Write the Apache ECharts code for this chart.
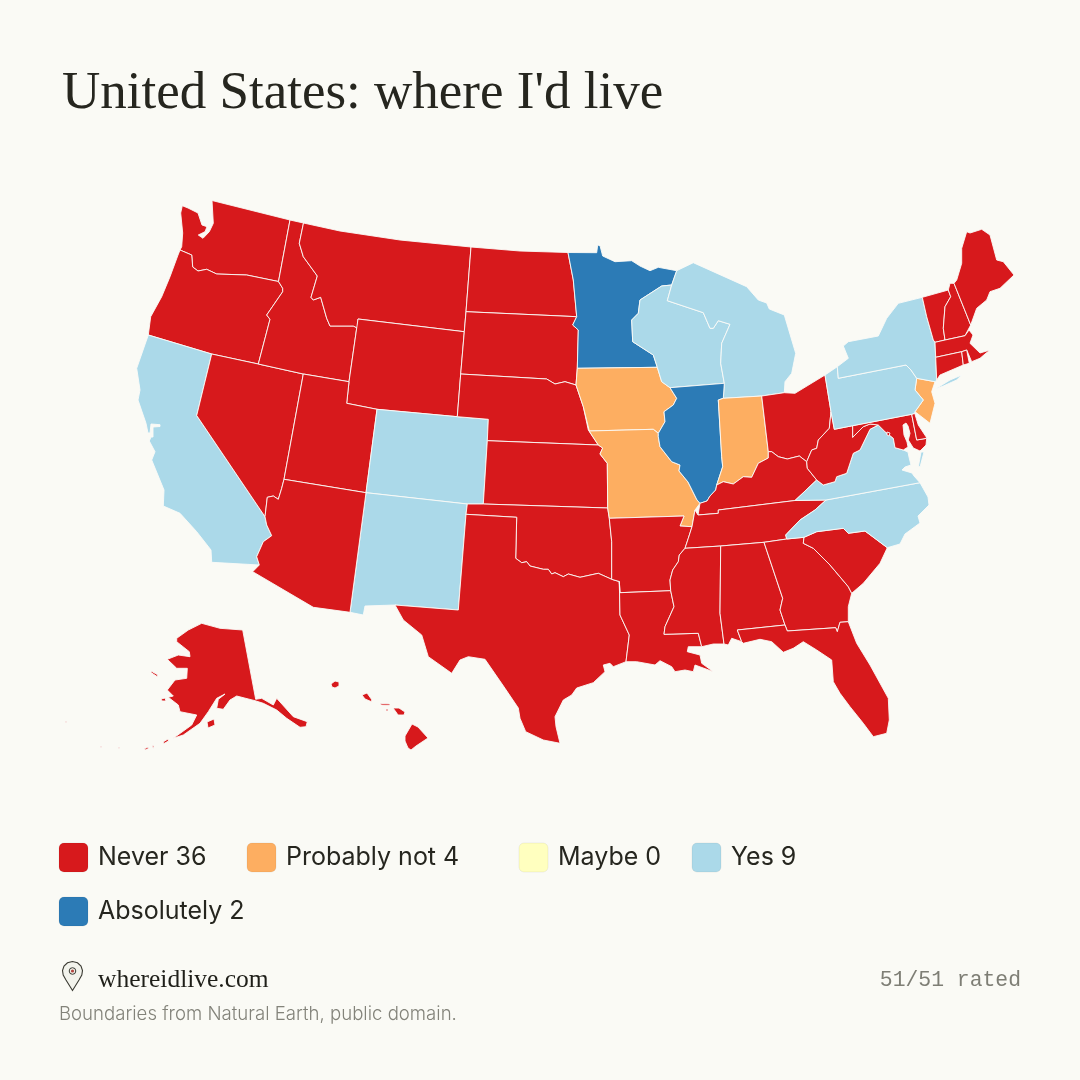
<!DOCTYPE html>
<html>
<head>
<meta charset="utf-8">
<title>United States: where I'd live</title>
<style>
	html, body { margin: 0; padding: 0; background: #fafaf5; }
</style>
</head>
<body>
<div id="main" style="width:1080px;height:1080px;"></div>
<script src="https://cdn.jsdelivr.net/npm/echarts@6/dist/echarts.min.js"></script>
<script>
	// rating scale
	var ratingNames = ['Never', 'Probably not', 'Maybe', 'Yes', 'Absolutely'];
	var ratingColors = ['#d7191c', '#fdae61', '#ffffbf', '#abd9e9', '#2c7bb6'];

	// states per rating, everything not listed is "Never"
	var probablyNot = ['Iowa', 'Missouri', 'Indiana', 'New Jersey'];
	var maybe = [];
	var yes = ['California', 'Colorado', 'New Mexico', 'Wisconsin', 'Michigan', 'New York', 'Pennsylvania', 'Virginia', 'North Carolina'];
	var absolutely = ['Minnesota', 'Illinois'];

	// rough state outlines, traced in page pixels. geojson is built from these below
	var outlines = {
		'Washington': [[[212,200.5],[250,210],[290,220],[278.5,281.5],[246.7,275],[216.7,274],[206.7,269.3],[198,271],[192.7,267],[191.7,255],[180,250],[181.7,246.7],[182.7,233],[180.7,213],[182.3,205.7],[188,208],[198,213],[202,225],[207,226.7],[205,231.7],[198.3,235],[203,238.3],[209.3,231.7],[213.3,223.3]]],
		'Oregon': [[[180,250],[191.7,255],[192.7,267],[198,271],[206.7,269.3],[216.7,274],[246.7,275],[278.5,281.5],[282.7,288.3],[282.7,291.7],[266.7,315],[270,319.3],[258.3,364],[211.7,354],[148.3,335],[150.7,316.7],[161.7,296.7],[170,276.7],[178,255]]],
		'California': [[[148.3,335],[211.7,354],[196.7,415.5],[265,516.7],[266.7,525],[271.7,535.7],[263.3,541.7],[256.7,556.7],[259.3,565],[258.3,566],[211.7,562.3],[211,550],[196.7,531.7],[180,513.3],[163.3,506],[164,490],[151.7,460],[155,451.7],[149.3,441],[151,437],[153,437],[153,427],[160,426.5],[160,424.7],[151,424],[150,433],[148,433],[146,423.3],[138,400],[140,390],[136.7,368.3]], [[166,519.5],[168,520],[167,521]], [[172,519.5],[174,520],[173,521]], [[192,538.5],[193.5,539],[192.5,540]]],
		'Nevada': [[[211.7,354],[258.3,364],[303.3,374],[284,479.3],[281.7,488.3],[278.3,499.3],[273.3,496],[267.3,497.3],[265,516.7],[196.7,415.5]]],
		'Idaho': [[[290,220],[303.5,223],[299.3,243.3],[303.3,256.7],[317.3,276],[311,297.3],[313.3,300],[320.7,297.3],[326.7,318.3],[330,326],[353.3,326],[357.3,328],[358,319],[349,381.7],[303.3,374],[258.3,364],[270,319.3],[266.7,315],[282.7,291.7],[282.7,288.3],[278.5,281.5]]],
		'Montana': [[[303.5,223],[340,231],[400,240],[471,247],[466,311.7],[464.3,331.7],[358,319],[357.3,328],[353.3,326],[330,326],[326.7,318.3],[320.7,297.3],[313.3,300],[311,297.3],[317.3,276],[303.3,256.7],[299.3,243.3]]],
		'Wyoming': [[[358,319],[464.3,331.7],[460.7,374],[457.3,416.7],[377,409.3],[346.7,403.3],[349,381.7]]],
		'Utah': [[[303.3,374],[349,381.7],[346.7,403.3],[377,409.3],[366,492.7],[284,479.3]]],
		'Colorado': [[[377,409.3],[457.3,416.7],[488.3,419.3],[487.3,440.7],[483.3,504],[467.3,504],[366,492.7]]],
		'New Mexico': [[[366,492.7],[467.3,504],[466,514.3],[458.3,610],[395,605],[365,606],[363.3,615],[350,612.3]]],
		'Arizona': [[[284,479.3],[366,492.7],[350,612.3],[313.3,607.3],[252.7,571.7],[259.3,565],[256.7,556.7],[263.3,541.7],[271.7,535.7],[266.7,525],[265,516.7],[267.3,497.3],[273.3,496],[278.3,499.3],[281.7,488.3]]],
		'North Dakota': [[[471,247],[520,251],[568,252.5],[573.3,280],[576.7,316.7],[466,311.7]]],
		'South Dakota': [[[466,311.7],[576.7,316.7],[572.7,325],[578.3,330],[577.3,368.3],[576,385],[565,381.7],[555,384],[546.7,379],[460.7,374],[464.3,331.7]]],
		'Nebraska': [[[460.7,374],[546.7,379],[555,384],[565,381.7],[576,385],[583.3,406.7],[588.3,430],[589.3,431],[591.7,435],[598.3,445],[487.3,440.7],[488.3,419.3],[457.3,416.7]]],
		'Kansas': [[[487.3,440.7],[598.3,445],[602.7,448],[600,454],[607.3,463.3],[607.7,508],[483.3,504]]],
		'Oklahoma': [[[467.3,504],[483.3,504],[607.7,508],[609.3,518.3],[611.7,541.7],[611.7,579.3],[598.3,573.3],[580,577.3],[568.3,574],[563.3,576.7],[555,572.7],[551.7,574],[548.3,569.3],[543.3,569.3],[530,566],[526.7,561.7],[521.7,562.7],[515.7,558.3],[516.7,517.3],[466,514.3]]],
		'Texas': [[[466,514.3],[516.7,517.3],[515.7,558.3],[521.7,562.7],[526.7,561.7],[530,566],[543.3,569.3],[548.3,569.3],[551.7,574],[555,572.7],[563.3,576.7],[568.3,574],[580,577.3],[598.3,573.3],[611.7,579.3],[619.3,581.5],[620,615],[629.3,635],[626,661.7],[613.3,666.7],[610,663.3],[603.3,665],[605,671.7],[593.3,682.7],[576.7,688],[571.7,695],[563.3,700],[555,716.7],[556,726.7],[560,743.3],[543.3,740],[525.7,731.7],[520,718.3],[518.3,708],[505,688.3],[485,659.3],[468.3,656.7],[460,660],[451.7,673.3],[428.3,656.7],[421.7,635],[403.3,620],[395,605],[458.3,610]]],
		'Minnesota': [[[568,252.5],[596.7,252.7],[597.7,245],[600,245.7],[602.7,256],[615,261.7],[631.7,260.7],[640,266],[650,270.7],[658.3,267.3],[676.7,270.7],[671.7,285],[661.7,286],[640,300],[638.3,313.3],[631.7,320],[632.7,341.7],[653.3,355],[657.3,367.3],[577.3,368.3],[578.3,330],[572.7,325],[576.7,316.7],[573.3,280]]],
		'Iowa': [[[577.3,368.3],[657.3,367.3],[661.7,381.7],[670,387.7],[676.7,398.3],[673.3,405],[664,411.7],[665,421.7],[658.3,433.3],[653.3,429.3],[589.3,431],[588.3,430],[583.3,406.7],[576,385]]],
		'Missouri': [[[589.3,431],[653.3,429.3],[658.3,433.3],[658.3,436.7],[660,446.7],[671.7,461.7],[680,465],[679,471],[688,482],[693,492],[697,500],[700,503.3],[695,510],[692,526.7],[680,526],[684,516],[609.3,518.3],[607.7,508],[607.3,463.3],[600,454],[602.7,448],[598.3,445],[591.7,435]]],
		'Arkansas': [[[609.3,518.3],[684,516],[680,526],[692,526.7],[688.3,538.3],[685,548.3],[679.3,555],[678.3,561.7],[672.7,570],[670,580],[670.7,590.7],[620,592.7],[619.3,581.5],[611.7,579.3],[611.7,541.7]]],
		'Louisiana': [[[619.3,581.5],[620,592.7],[670.7,590.7],[674,606.7],[665,626.7],[664,634.3],[698.3,633.3],[701.7,646.7],[688.3,646.7],[687.3,651.7],[700,655],[701.7,663.3],[713.3,671.7],[695,665],[693.3,671.7],[685,670],[675,671.7],[671.7,666.7],[660,660.7],[655,665],[636.7,661.7],[626,661.7],[629.3,635],[620,615]]],
		'Wisconsin': [[[661.7,286],[671.7,285],[667.3,300.7],[703.3,312.7],[710,328.3],[713.3,328.3],[718.3,320.7],[730,324.3],[721.7,343.3],[720.7,363.3],[724.3,383.3],[670,387.7],[661.7,381.7],[657.3,367.3],[653.3,355],[632.7,341.7],[631.7,320],[638.3,313.3],[640,300]]],
		'Michigan': [[[676.7,270.7],[693.3,262.7],[746.7,286.7],[758.3,300],[766.7,303],[769.3,309],[784.3,315],[795.7,353.3],[791.7,373.3],[785,381.7],[784.3,392.7],[761.7,396],[723.3,398.3],[724.3,383.3],[720.7,363.3],[721.7,343.3],[730,324.3],[718.3,320.7],[713.3,328.3],[710,328.3],[703.3,312.7],[667.3,300.7],[671.7,285]]],
		'Illinois': [[[670,387.7],[724.3,383.3],[723.3,398.3],[718.3,400],[721.7,456.7],[722.7,466.7],[716.7,485],[715.7,490],[710,496],[707,501],[700,503.3],[697,500],[693,492],[688,482],[679,471],[680,465],[671.7,461.7],[660,446.7],[658.3,436.7],[658.3,433.3],[665,421.7],[664,411.7],[673.3,405],[676.7,398.3]]],
		'Indiana': [[[718.3,400],[723.3,398.3],[761.7,396],[768.3,451.7],[768.3,458],[758.3,463.3],[751.7,477.3],[743.3,476.7],[733.3,484],[723.3,481.7],[716.7,485],[722.7,466.7],[721.7,456.7]]],
		'Ohio': [[[761.7,396],[784.3,392.7],[795,393.3],[825,375],[831,411.7],[829.3,428.3],[818.3,440],[816.7,448.3],[811.7,450],[806.7,461.7],[799.3,456],[787.3,459],[778.3,456.7],[771.7,451.7],[768.3,451.7]]],
		'Kentucky': [[[768.3,451.7],[771.7,451.7],[778.3,456.7],[787.3,459],[799.3,456],[806.7,461.7],[807.3,468.3],[816.7,480],[795,500.5],[718.3,510],[718.3,513.3],[698,515],[700,503.3],[707,501],[710,496],[715.7,490],[716.7,485],[723.3,481.7],[733.3,484],[743.3,476.7],[751.7,477.3],[758.3,463.3],[768.3,458]]],
		'Tennessee': [[[698,515],[718.3,513.3],[718.3,510],[795,500.5],[826,500],[815,510],[800,520],[787.3,533.3],[785.7,535],[786.7,539],[764,542.3],[720.7,546],[685,548.3],[688.3,538.3],[692,526.7],[695,510]]],
		'Mississippi': [[[685,548.3],[720.7,546],[720,613.3],[724,644],[713.3,644],[701.7,646.7],[698.3,633.3],[664,634.3],[665,626.7],[674,606.7],[670.7,590.7],[670,580],[672.7,570],[678.3,561.7],[679.3,555]]],
		'Alabama': [[[720.7,546],[764,542.3],[782.7,598.3],[780,610],[785,625],[737.3,630],[741.7,641.7],[731.7,638.3],[728.3,645],[724,644],[720,613.3]]],
		'Georgia': [[[764,542.3],[786.7,539],[804,537.3],[803.3,543.3],[813.3,548.3],[830,565],[848.3,586.7],[851.7,593.3],[848.3,606.7],[848.3,621.7],[840,622.3],[837.3,631.7],[835.7,627.7],[787.3,631],[785,625],[780,610],[782.7,598.3]]],
		'Florida': [[[737.3,630],[785,625],[787.3,631],[835.7,627.7],[837.3,631.7],[840,622.3],[848.3,621.7],[856.7,643.3],[870,665],[888.3,698.3],[889.3,720],[886.7,733.3],[873.3,736.7],[863.3,723.3],[850,706.7],[840,693.3],[833.3,681.7],[831.7,660],[816.7,650],[803.3,641.7],[793.3,648.3],[783.3,652.3],[771.7,641.7],[760,639.3],[743.3,643.3],[741.7,641.7]]],
		'South Carolina': [[[804,537.3],[816.7,531.7],[843.3,528.3],[848.3,533.3],[865,531],[887.3,547.7],[880,563.3],[863.3,583.3],[851.7,593.3],[848.3,586.7],[830,565],[813.3,548.3],[803.3,543.3]]],
		'North Carolina': [[[826,500],[920,482.7],[928,497],[929,505],[918,516],[920,523],[905,534],[900,544],[887.3,547.7],[865,531],[848.3,533.3],[843.3,528.3],[816.7,531.7],[804,537.3],[786.7,539],[785.7,535],[787.3,533.3],[800,520],[815,510]]],
		'Virginia': [[[795,500.5],[816.7,480],[823.3,485],[835,481.7],[836.7,476.7],[846.7,473.3],[853.3,453.3],[860,450],[870,429.3],[878.3,425],[885,431.7],[893.3,438.3],[895,447.7],[903.3,450],[908,452],[909,457],[911,465],[905,467],[902,470],[912,473],[914,476],[920,482.7],[826,500]], [[921,452],[924,452],[920,467],[918.5,466]]],
		'West Virginia': [[[831,411.7],[834.3,429.3],[852.7,425.7],[852.7,437.3],[863.3,426.7],[870,424],[878.3,425],[870,429.3],[860,450],[853.3,453.3],[846.7,473.3],[836.7,476.7],[835,481.7],[823.3,485],[816.7,480],[807.3,468.3],[806.7,461.7],[811.7,450],[816.7,448.3],[818.3,440],[829.3,428.3]]],
		'Maryland': [[[852.7,425.7],[911.7,414.3],[916.7,440],[926.7,438.3],[926,445],[920,451],[913.3,448],[908.3,440],[910,433.3],[908,426],[906,423],[903,425],[904,435],[907,442],[908,447],[903.3,450],[895,447.7],[893.3,438.3],[885,431.7],[878.3,425],[870,424],[863.3,426.7],[852.7,437.3]]],
		'District of Columbia': [[[887,432],[890,433],[889,436],[887,435]]],
		'Delaware': [[[911.7,414.3],[914.7,413.3],[918.3,425],[926,436.7],[926.7,438.3],[916.7,440]]],
		'New Jersey': [[[916.7,378.3],[935,381.7],[931.7,391.7],[935,403.3],[930,423.3],[915,411.7],[923.3,400],[915,390]]],
		'Pennsylvania': [[[825,375],[837.3,366.7],[838.3,378.3],[906,365],[911,370],[916.7,378.3],[915,390],[923.3,400],[915,411.7],[914.7,413.3],[911.7,414.3],[852.7,425.7],[834.3,429.3],[831,411.7]]],
		'New York': [[[837.3,366.7],[848.3,358.3],[843.3,346],[848.3,341.7],[878.3,336],[886.7,318.3],[898.3,303.3],[922.3,297.3],[926.7,316.7],[933.3,340],[935,342.3],[935.7,357.3],[936.7,380],[935,381.7],[916.7,378.3],[911,370],[906,365],[838.3,378.3]], [[935,389.3],[950,380],[961.7,375],[956.7,380],[943.3,386]]],
		'Vermont': [[[922.3,297.3],[948.3,290],[950.7,296.7],[945,306.7],[943.3,328.3],[945,340],[935,342.3],[933.3,340],[926.7,316.7]]],
		'New Hampshire': [[[948.3,290],[950,283.3],[954,283.3],[970.7,325],[965,335.7],[945,340],[943.3,328.3],[945,306.7],[950.7,296.7]]],
		'Maine': [[[954,283.3],[956.7,280],[961.7,263.3],[961.7,248.3],[966.7,231.7],[970,233],[981.7,229.3],[990,235],[996.7,260],[1003.3,261.7],[1014,275],[1000,288.3],[990,291.7],[986.7,300],[976.7,308.3],[970.7,325]]],
		'Massachusetts': [[[935,342.3],[945,340],[965,335.7],[969,330],[973,335],[970,343.3],[980,353],[990,350],[985,354],[980,358.3],[971.7,361.7],[966.7,350],[961.7,351.7],[935.7,357.3]], [[982,359.5],[983.5,360],[982.5,361]], [[990,359.5],[991.5,360],[990.5,361]]],
		'Connecticut': [[[935.7,357.3],[961.7,351.7],[963.3,365],[940,375],[936.7,380]]],
		'Rhode Island': [[[961.7,351.7],[966.7,350],[969.3,363.3],[963.3,365]]],
		'Alaska': [[[242.7,630],[255.7,699.3],[261.7,698.3],[273.3,705],[276.7,698.3],[293.3,716.7],[307.3,721.7],[306,726.7],[300,727.3],[286.7,718.3],[276.7,710],[263.3,703.3],[255,700.7],[236.7,696],[230,700],[223.3,709.3],[216.7,708.3],[218.3,699.3],[225,694],[216.7,698.3],[208.3,711.7],[200,723.3],[183.3,735],[173.3,738.3],[191.7,725],[196.7,715],[180,711.7],[178.3,705],[168.3,697.3],[173.3,696],[167.3,690],[175,680],[186.7,678.3],[187.3,668.3],[176.7,668.3],[167.3,659.3],[178.3,655],[190,656.7],[189.3,651.7],[176.7,641.7],[176.7,638.3],[188.3,630],[201.7,623.3],[220,628.3]], [[207,722],[214,719],[215,725],[208,728]], [[151,671],[158,675],[157,676.5],[151,672.5]], [[161,699],[165,698],[166,701],[162,701]], [[163,742],[168,739],[168.5,741],[164,743.5]], [[144,749],[148,747],[148.5,748.5],[145,750]], [[152,746],[154,745.5],[153.5,748.5]], [[65,721],[67,721.5],[66,723]], [[100,746],[102,746],[101,747.5]], [[118,747],[120,747],[119,748.5]]],
		'Hawaii': [[[331,684],[335,681],[339,682],[339,686],[335,688],[332,687]], [[362,695],[367,693],[372,700],[371,701.5],[365,699]], [[380,703.3],[390,704],[390,705.5],[381,705]], [[386,709],[388,709],[388,711],[386,711]], [[393,708],[399,708],[405,712],[404,715],[398,715],[396,712]], [[405,736],[412,724],[418,727],[428,738],[416,746],[411,750],[408,748],[405,741]]]
	};

	var stateNames = Object.keys(outlines);

	function ratingOf(name) {
		if (probablyNot.indexOf(name) >= 0) return 1;
		if (maybe.indexOf(name) >= 0) return 2;
		if (yes.indexOf(name) >= 0) return 3;
		if (absolutely.indexOf(name) >= 0) return 4;
		return 0;
	}

	var counts = [0, 0, 0, 0, 0];
	var seriesData = [];
	var minX = 1e9, minY = 1e9, maxX = -1e9, maxY = -1e9;
	var features = [];
	stateNames.forEach(function (name) {
		var r = ratingOf(name);
		counts[r]++;
		seriesData.push({name: name, value: r, itemStyle: {areaColor: ratingColors[r]}});
		outlines[name].forEach(function (ring) {
			ring.forEach(function (p) {
				minX = Math.min(minX, p[0]); maxX = Math.max(maxX, p[0]);
				minY = Math.min(minY, p[1]); maxY = Math.max(maxY, p[1]);
			});
		});
		features.push({
			type: 'Feature',
			properties: {name: name},
			geometry: {
				type: 'MultiPolygon',
				coordinates: outlines[name].map(function (ring) {
					// geojson wants closed rings
					return [ring.concat([ring[0]])];
				})
			}
		});
	});
	echarts.registerMap('usa', {type: 'FeatureCollection', features: features});

	// legend, laid out by hand because the columns are not even
	var legendSpots = [[59, 843], [247, 843], [519, 843], [692, 843], [59, 897]];
	var legendText = {fontFamily: 'Inter', fontSize: 25, fontWeight: 400, fill: '#26261f'};
	var graphics = [];
	ratingNames.forEach(function (name, i) {
		graphics.push({
			type: 'rect',
			x: legendSpots[i][0], y: legendSpots[i][1],
			shape: {width: 29, height: 29, r: 5},
			style: {fill: ratingColors[i], stroke: 'rgba(0,0,0,0.06)', lineWidth: 1}
		});
		graphics.push({
			type: 'text',
			x: legendSpots[i][0] + 39, y: legendSpots[i][1] + 14.5,
			style: echarts.util.extend({text: name + ' ' + counts[i], textVerticalAlign: 'middle'}, legendText)
		});
	});
	// pin
	graphics.push({
		type: 'polygon',
		shape: {points: [[72.5,961.5],[67.5,962.8],[64,966],[62.5,970.5],[63.2,975],[66,980],[72.5,990.5],[79,980],[81.8,975],[82.5,970.5],[81,966],[77.5,962.8]]},
		style: {fill: '#f2f3ec', stroke: '#3a3a32', lineWidth: 1.1}
	});
	graphics.push({type: 'circle', shape: {cx: 72.5, cy: 971, r: 3.3}, style: {fill: 'none', stroke: '#3a3a32', lineWidth: 1}});
	graphics.push({type: 'circle', shape: {cx: 72.5, cy: 971, r: 1.6}, style: {fill: '#b2453f'}});
	graphics.push({
		type: 'text', x: 98, y: 980,
		style: {text: 'whereidlive.com', fontFamily: 'Liberation Serif', fontSize: 25.5, fontWeight: 'normal', fill: '#1f1f19', textVerticalAlign: 'middle'}
	});
	graphics.push({
		type: 'text', x: 59, y: 1014,
		style: {text: 'Boundaries from Natural Earth, public domain.', fontFamily: 'Inter', fontSize: 18.6, fontWeight: 300, fill: '#83837a', textVerticalAlign: 'middle'}
	});
	graphics.push({
		type: 'text', x: 1021, y: 980,
		style: {text: stateNames.length + '/' + stateNames.length + ' rated', fontFamily: 'Liberation Mono', fontSize: 21.4, fill: '#7e7e75', textAlign: 'right', textVerticalAlign: 'middle'}
	});

	var myChart = echarts.init(document.getElementById('main'));
	myChart.setOption({
		backgroundColor: '#fafaf5',
		animation: false,
		title: {
			text: "United States: where I'd live",
			left: 62,
			top: 68,
			padding: 0,
			textStyle: {fontFamily: 'Liberation Serif', fontSize: 53, fontWeight: 'normal', color: '#26261f'}
		},
		graphic: graphics,
		series: [{
			type: 'map',
			map: 'usa',
			// outlines are already in page pixels
			projection: {
				project: function (p) { return p; },
				unproject: function (p) { return p; }
			},
			left: minX,
			top: minY,
			width: maxX - minX,
			height: maxY - minY,
			silent: true,
			label: {show: false},
			itemStyle: {borderColor: '#fbfbf7', borderWidth: 0.9},
			data: seriesData
		}]
	});
</script>
</body>
</html>
